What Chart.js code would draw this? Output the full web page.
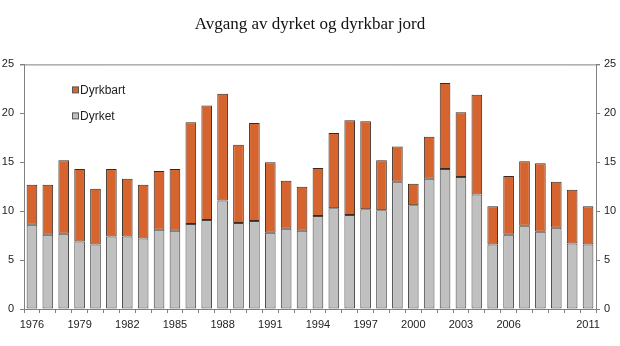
<!DOCTYPE html>
<html>
<head>
<meta charset="utf-8">
<script src="https://cdn.jsdelivr.net/npm/chart.js@4"></script>
<style>
  html, body { margin: 0; padding: 0; background: #fff; }
  #wrap { width: 620px; height: 346px; }
</style>
</head>
<body>
<div id="wrap"><canvas id="chart" width="620" height="346"></canvas></div>
<script>
const years = [];
for (let y = 1976; y <= 2011; y++) years.push(String(y));

// tick labels shown on the x axis
const shownYears = ["1976", "1979", "1982", "1985", "1988", "1991", "1994",
  "1997", "2000", "2003", "2006", "2011"];

// dyrket jord (bottom part of each bar)
const dyrket = [8.6, 7.6, 7.7, 6.9, 6.6, 7.4, 7.4, 7.2, 8.1, 8.0,
  8.7, 9.1, 11.1, 8.8, 9.0, 7.8, 8.2, 8.0, 9.5, 10.3,
  9.6, 10.2, 10.1, 13.0, 10.6, 13.3, 14.3, 13.5, 11.7, 6.6,
  7.6, 8.5, 7.9, 8.3, 6.7, 6.6];

// dyrkbar jord (stacked on top)
const dyrkbart = [4.1, 5.1, 7.5, 7.4, 5.7, 6.9, 5.9, 5.5, 6.0, 6.3,
  10.4, 11.7, 10.9, 8.0, 10.0, 7.2, 4.9, 4.5, 4.9, 7.7,
  9.7, 9.0, 5.1, 3.6, 2.2, 4.3, 8.8, 6.6, 10.2, 3.9,
  6.0, 6.6, 7.0, 4.7, 5.5, 3.9];

const yTicks = [0, 5, 10, 15, 20, 25];

const axisColor = "#808080";
const textColor = "#222";
const tickFont = { family: "Liberation Sans, Arial", size: 11 };

/* frame line along the top of the plot */
const topFrame = {
  id: "topFrame",
  afterDraw(chart) {
    const { ctx, chartArea } = chart;
    ctx.save();
    ctx.strokeStyle = axisColor;
    ctx.lineWidth = 1;
    ctx.beginPath();
    ctx.moveTo(chartArea.left - 4, chartArea.top + 0.5);
    ctx.lineTo(chartArea.right + 4, chartArea.top + 0.5);
    ctx.stroke();
    ctx.restore();
  }
};

/* small legend inside the plot, top left */
const innerLegend = {
  id: "innerLegend",
  afterDraw(chart) {
    const { ctx, chartArea } = chart;
    const sets = chart.data.datasets.slice().reverse();
    ctx.save();
    ctx.font = "12px Liberation Sans, Arial";
    ctx.textBaseline = "middle";
    sets.forEach((ds, i) => {
      const x = chartArea.left + 48;
      const y = chartArea.top + 26 + i * 26;
      ctx.fillStyle = ds.backgroundColor;
      ctx.fillRect(x + 0.5, y - 3.5, 6, 6);
      ctx.strokeStyle = "#555";
      ctx.lineWidth = 1;
      ctx.strokeRect(x + 0.5, y - 3.5, 6, 6);
      ctx.fillStyle = textColor;
      ctx.fillText(ds.label, x + 8, y);
    });
    ctx.restore();
  }
};

const config = {
  type: "bar",
  data: {
    labels: years,
    datasets: [
      {
        label: "Dyrket",
        data: dyrket,
        backgroundColor: "#c0c0c0",
        borderColor: "#444",
        borderWidth: 1,
        borderSkipped: false,
        barPercentage: 0.67,
        categoryPercentage: 1
      },
      {
        label: "Dyrkbart",
        data: dyrkbart,
        backgroundColor: "#d6642f",
        borderColor: "#3a2a20",
        borderWidth: 1,
        borderSkipped: false,
        barPercentage: 0.67,
        categoryPercentage: 1
      }
    ]
  },
  options: {
    responsive: false,
    animation: false,
    layout: { padding: 0 },
    plugins: {
      legend: { display: false },
      tooltip: { enabled: false },
      title: {
        display: true,
        text: "Avgang av dyrket og dyrkbar jord",
        color: "#111",
        font: { family: "Liberation Serif, Times New Roman", size: 17, weight: "normal" },
        padding: { top: 14, bottom: 30 }
      }
    },
    scales: {
      x: {
        stacked: true,
        grid: {
          display: true,
          offset: true,
          drawOnChartArea: false,
          tickLength: 4,
          color: axisColor
        },
        border: { display: true, color: axisColor },
        ticks: {
          color: textColor,
          font: tickFont,
          autoSkip: false,
          maxRotation: 0,
          padding: 5,
          callback(value) {
            const lbl = this.getLabelForValue(value);
            return shownYears.includes(lbl) ? lbl : "";
          }
        },
        afterFit(scale) { scale.height = 37; }
      },
      y: {
        stacked: true,
        position: "left",
        min: 0,
        max: 25,
        afterBuildTicks(scale) { scale.ticks = yTicks.map(v => ({ value: v })); },
        grid: { display: true, drawOnChartArea: false, tickLength: 4, color: axisColor },
        border: { display: true, color: axisColor },
        ticks: { color: textColor, font: tickFont, padding: 6 },
        afterFit(scale) { scale.width = 24; }
      },
      y2: {
        position: "right",
        min: 0,
        max: 25,
        afterBuildTicks(scale) { scale.ticks = yTicks.map(v => ({ value: v })); },
        grid: { display: true, drawOnChartArea: false, tickLength: 4, color: axisColor },
        border: { display: true, color: axisColor },
        ticks: { color: textColor, font: tickFont, padding: 4 },
        afterFit(scale) { scale.width = 24; }
      }
    }
  },
  plugins: [topFrame, innerLegend]
};

const myChart = new Chart(document.getElementById("chart"), config);
</script>
</body>
</html>
